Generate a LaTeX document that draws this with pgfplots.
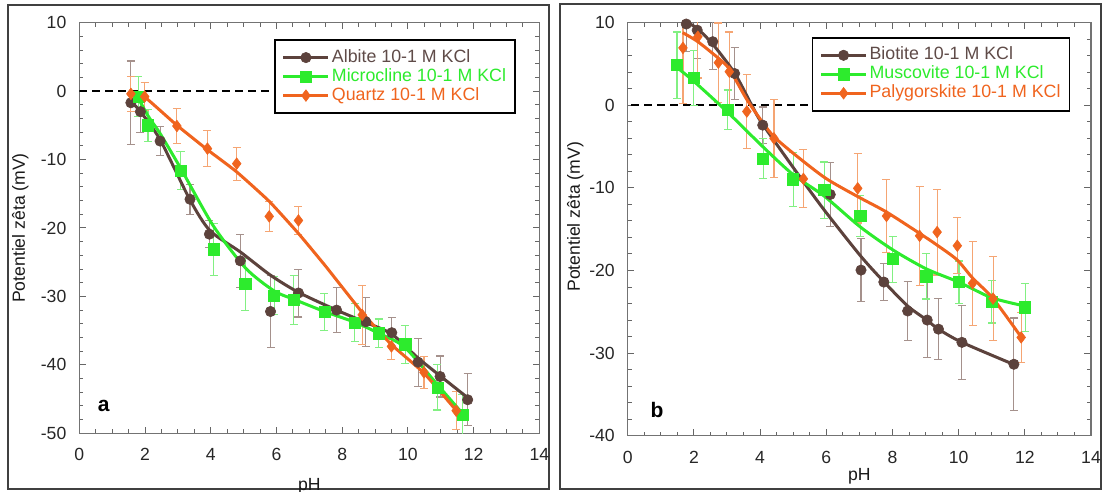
\documentclass[border=0pt]{standalone}
\usepackage{fontspec}
\setmainfont{Liberation Sans}
\usepackage{pgfplots}
\usepackage{pgfplotstable}
\pgfplotsset{compat=1.18}
\definecolor{cbr}{RGB}{92,66,60}
\definecolor{cgr}{RGB}{45,235,45}
\definecolor{cor}{RGB}{240,100,30}
\definecolor{ebr}{RGB}{165,145,140}
\definecolor{egr}{RGB}{130,240,130}
\definecolor{eor}{RGB}{245,165,115}
\definecolor{tbr}{RGB}{95,75,72}
\newcommand\ff{\fontsize{8.8bp}{10.4bp}\selectfont}
\newcommand\lf{\fontsize{8.9bp}{10.4bp}\selectfont}

% ---------- panel a ----------
\pgfplotstableread{
x y e
1.57 -1.7 6.1
1.86 -3.0 3.0
2.46 -7.3 2.1
3.37 -15.8 2.2
3.96 -20.9 2.0
4.90 -24.8 3.9
5.82 -32.2 5.3
6.67 -29.5 3.5
7.83 -32.0 3.3
8.72 -33.7 3.6
9.51 -35.3 2.2
10.31 -39.6 3.5
10.98 -41.7 3.0
11.82 -45.1 3.8
}\tAlb
\pgfplotstableread{
x y
1.57 -1.5
1.86 -3.0
2.46 -7.1
3.37 -15.9
3.98 -20.4
4.90 -23.5
5.82 -26.9
6.67 -29.4
7.83 -32.0
8.72 -33.8
9.51 -35.5
10.31 -39.0
10.98 -41.6
11.82 -44.8
}\fAlb
\pgfplotstableread{
x y e
1.80 -0.8 2.9
2.09 -5.0 2.3
3.08 -11.6 2.8
4.09 -23.1 3.8
5.05 -28.2 3.8
5.93 -29.9 2.8
6.52 -30.5 3.6
7.46 -32.3 2.7
8.38 -33.8 2.8
9.11 -35.4 2.1
9.92 -37.0 2.8
10.90 -43.3 3.3
11.66 -47.3 3.0
}\tMic
\pgfplotstableread{
x y
1.75 -0.6
2.09 -3.6
2.46 -6.2
3.10 -11.4
4.08 -19.7
5.07 -25.9
5.93 -29.2
6.52 -30.4
7.46 -32.2
8.40 -33.8
9.12 -35.4
9.90 -37.4
10.90 -42.9
11.66 -47.1
}\fMic
\pgfplotstableread{
x y e
1.57 -0.4 2.6
1.99 -0.8 2.0
2.97 -5.1 2.5
3.90 -8.4 2.6
4.79 -10.6 2.4
5.78 -18.3 2.2
6.67 -18.9 2.1
8.61 -32.7 4.3
9.50 -37.3 1.9
10.49 -41.1 2.3
11.47 -46.7 2.8
}\tQua
\pgfplotstableread{
x y
1.57 -0.3
2.00 -0.9
2.96 -4.95
3.91 -8.6
4.79 -11.8
5.78 -16.1
6.67 -20.8
7.50 -25.6
8.62 -32.4
9.49 -37.0
10.49 -41.2
11.46 -46.6
}\fQua

% ---------- panel b ----------
\pgfplotstableread{
x y e
1.77 9.84 3.3
2.10 9.1 3.4
2.57 7.7 3.4
3.23 3.85 3.1
4.08 -2.4 2.2
6.12 -10.8 3.9
7.05 -19.95 3.8
7.74 -21.4 2.2
8.46 -24.9 3.6
9.05 -26.0 4.5
9.39 -27.1 3.7
10.10 -28.7 4.5
11.67 -31.35 5.6
}\tBio
\pgfplotstableread{
x y
1.77 10.1
2.10 9.3
2.57 7.4
3.23 3.9
3.75 0.0
4.08 -2.3
5.30 -9.2
6.00 -13.0
7.05 -18.3
7.75 -21.4
8.46 -24.3
9.04 -26.0
9.39 -27.1
10.10 -28.7
11.68 -31.4
}\fBio
\pgfplotstableread{
x y e
1.49 4.87 4.0
2.00 3.3 3.3
3.02 -0.55 2.4
4.09 -6.45 2.4
5.00 -8.97 3.3
5.94 -10.26 3.4
7.03 -13.4 2.5
8.01 -18.63 2.8
9.02 -20.7 2.75
10.01 -21.4 2.55
11.00 -23.8 2.55
12.01 -24.45 2.9
}\tMus
\pgfplotstableread{
x y
1.48 4.6
2.00 2.9
3.01 -0.8
4.08 -5.0
5.00 -8.4
5.94 -11.0
7.02 -14.7
8.01 -17.5
9.02 -19.8
10.00 -21.4
11.00 -23.3
12.00 -24.3
}\fMus
\pgfplotstableread{
x y e
1.67 6.95 6.7
2.12 8.3 5.0
2.74 5.16 4.8
3.07 4.07 4.8
3.60 -0.75 4.45
4.42 -4.0 4.75
5.31 -8.9 3.5
6.95 -10.05 4.2
7.82 -13.4 4.4
8.82 -15.8 6.0
9.35 -15.35 5.2
9.96 -17.0 3.4
10.42 -21.55 5.1
11.04 -23.4 5.1
11.89 -28.1 3.0
}\tPal
\pgfplotstableread{
x y
1.66 8.8
2.12 7.7
2.74 5.7
3.07 4.4
3.60 0.7
4.10 -2.2
4.42 -3.8
5.00 -5.8
5.97 -8.8
6.95 -11.05
7.81 -12.9
8.82 -15.5
9.34 -16.9
9.95 -18.7
10.42 -20.9
11.04 -23.4
11.88 -28.0
}\fPal

\pgfplotsset{
  panel/.style={
    scale only axis,
    xmin=0, xmax=14,
    xtick={0,2,...,14},
    xticklabels={0,2,4,6,8,10,12,14},
    minor x tick num=3,
    minor y tick num=4,
    tick align=inside,
    tick pos=both,
    major tick length=3.3bp,
    minor tick length=2bp,
    every tick/.style={black!60, line width=0.5bp},
    axis line style={black!55, line width=0.7bp},
    tick label style={font=\ff, text=black!85},
    xticklabel style={inner ysep=0pt, yshift=-7.5bp},
    yticklabel style={inner xsep=0pt, xshift=-6.3bp},
    label style={font=\ff, text=black!90},
    xlabel style={anchor=north, inner sep=0pt},
    ylabel style={anchor=center, inner sep=0pt},
    legend style={anchor=north east, draw=black, line width=0.8bp,
      inner xsep=3.5bp, inner ysep=4bp, font=\lf, row sep=0pt,
      nodes={inner xsep=1bp, inner ysep=0.5bp, text height=6.5bp, text depth=2bp},
      cells={anchor=west}},
    legend image code/.code={\draw[mark repeat=2, mark phase=2, #1]
      plot coordinates {(0bp,0bp) (11.25bp,0bp) (22.5bp,0bp)};},
  },
  ptsbr/.style={only marks, mark=*, mark size=2.6bp, color=cbr,
    mark options={fill=cbr, draw=cbr, line width=0.3bp},
    error bars/.cd, y dir=both, y explicit,
    error bar style={ebr, line width=0.55bp},
    error mark options={ebr, rotate=90, mark size=2bp, line width=0.55bp},
    /pgfplots/.cd},
  ptsgr/.style={only marks, mark=square*, mark size=2.8bp, color=cgr,
    mark options={fill=cgr, draw=cgr, line width=0.3bp},
    error bars/.cd, y dir=both, y explicit,
    error bar style={egr, line width=0.55bp},
    error mark options={egr, rotate=90, mark size=2bp, line width=0.55bp},
    /pgfplots/.cd},
  ptsor/.style={only marks, mark=diamond*, mark size=2.9bp, color=cor,
    mark options={fill=cor, draw=cor, line width=0.3bp},
    error bars/.cd, y dir=both, y explicit,
    error bar style={eor, line width=0.55bp},
    error mark options={eor, rotate=90, mark size=2bp, line width=0.55bp},
    /pgfplots/.cd},
  fit/.style={no marks, line width=1.5bp, smooth, tension=0.45},
}

\begin{document}
\begin{tikzpicture}
\useasboundingbox (0,0) rectangle (552.5bp,246bp);
\draw[black!75, line width=0.9bp] (4bp,1.5bp) rectangle (274.5bp,243.5bp);
\draw[black!75, line width=0.9bp] (280bp,1.5bp) rectangle (550.5bp,244bp);

\begin{axis}[panel,
  at={(39.65bp,29.35bp)}, anchor=south west,
  width=230bp, height=205.3bp,
  ymin=-50, ymax=10,
  ytick={-50,-40,-30,-20,-10,0,10},
  yticklabels={-50,-40,-30,-20,-10,0,10},
  xlabel={pH}, ylabel={Potentiel zêta (mV)},
  xlabel style={at={(axis description cs:0.5,-0.108)}},
  ylabel style={at={(axis description cs:-0.128,0.5)}},
  legend style={at={(0.949,0.9596)}},
]
\addplot[black, line width=1bp, dash pattern=on 4bp off 2.5bp, forget plot] coordinates {(0,0) (6,0)};
\addplot[forget plot, ptsbr] table[x=x, y=y, y error=e] {\tAlb};
\addplot[forget plot, ptsgr] table[x=x, y=y, y error=e] {\tMic};
\addplot[forget plot, ptsor] table[x=x, y=y, y error=e] {\tQua};
\addplot[forget plot, fit, cbr] table[x=x, y=y] {\fAlb};
\addplot[forget plot, fit, cgr] table[x=x, y=y] {\fMic};
\addplot[forget plot, fit, cor, tension=0.25] table[x=x, y=y] {\fQua};
\addlegendimage{cbr, line width=1.5bp, mark=*, mark size=2.6bp, mark options={solid, fill=cbr, line width=0.3bp}}
\addlegendentry{\textcolor{tbr}{Albite 10-1 M KCl}}
\addlegendimage{cgr, line width=1.5bp, mark=square*, mark size=2.8bp, mark options={solid, fill=cgr, line width=0.3bp}}
\addlegendentry{\textcolor{cgr}{Microcline 10-1 M KCl}}
\addlegendimage{cor, line width=1.5bp, mark=diamond*, mark size=2.9bp, mark options={solid, fill=cor, line width=0.3bp}}
\addlegendentry{\textcolor{cor}{Quartz 10-1 M KCl}}
\node[font=\bfseries\fontsize{10.5bp}{12bp}\selectfont, anchor=base] at (axis cs:0.74,-46.85) {a};
\end{axis}

\begin{axis}[panel,
  at={(313.85bp,28.15bp)}, anchor=south west,
  width=231.65bp, height=206.5bp,
  ymin=-40, ymax=10,
  ytick={-40,-30,-20,-10,0,10},
  yticklabels={-40,-30,-20,-10,0,10},
  xlabel={pH}, ylabel={Potentiel zêta (mV)},
  xlabel style={at={(axis description cs:0.5,-0.078)}},
  ylabel style={at={(axis description cs:-0.113,0.53)}},
  legend style={at={(0.9553,0.9654)}},
]
\addplot[black, line width=1bp, dash pattern=on 4bp off 2.5bp, forget plot] coordinates {(0.1,0) (5.6,0)};
\addplot[forget plot, ptsbr] table[x=x, y=y, y error=e] {\tBio};
\addplot[forget plot, ptsgr] table[x=x, y=y, y error=e] {\tMus};
\addplot[forget plot, ptsor] table[x=x, y=y, y error=e] {\tPal};
\addplot[forget plot, fit, cbr] table[x=x, y=y] {\fBio};
\addplot[forget plot, fit, cgr] table[x=x, y=y] {\fMus};
\addplot[forget plot, fit, cor] table[x=x, y=y] {\fPal};
\addlegendimage{cbr, line width=1.5bp, mark=*, mark size=2.6bp, mark options={solid, fill=cbr, line width=0.3bp}}
\addlegendentry{\textcolor{tbr}{Biotite 10-1 M KCl}}
\addlegendimage{cgr, line width=1.5bp, mark=square*, mark size=2.8bp, mark options={solid, fill=cgr, line width=0.3bp}}
\addlegendentry{\textcolor{cgr}{Muscovite 10-1 M KCl}}
\addlegendimage{cor, line width=1.5bp, mark=diamond*, mark size=2.9bp, mark options={solid, fill=cor, line width=0.3bp}}
\addlegendentry{\textcolor{cor}{Palygorskite 10-1 M KCl}}
\node[font=\bfseries\fontsize{10.5bp}{12bp}\selectfont, anchor=base] at (axis cs:0.886,-37.77) {b};
\end{axis}
\end{tikzpicture}
\end{document}
